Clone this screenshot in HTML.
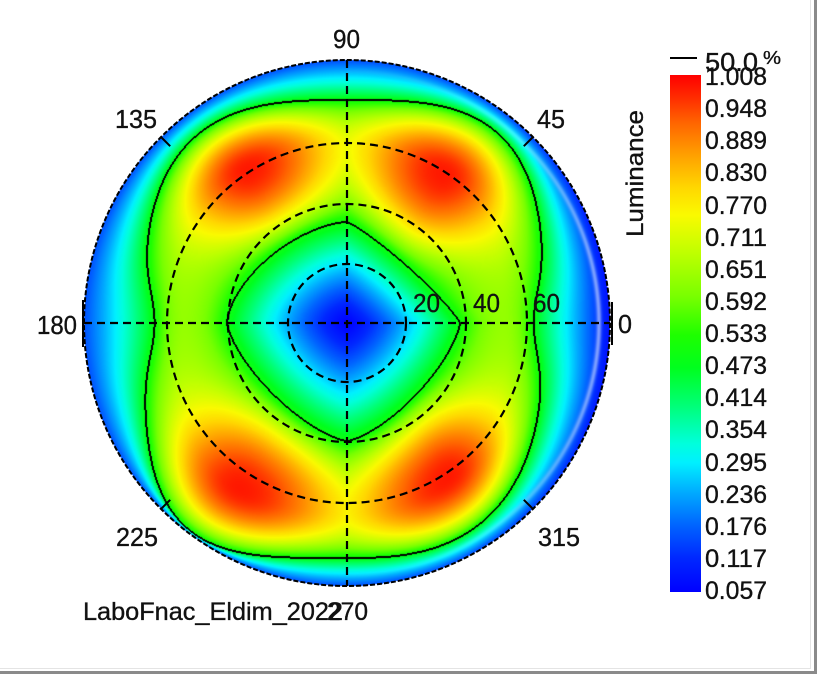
<!DOCTYPE html>
<html>
<head>
<meta charset="utf-8">
<style>
html,body{margin:0;padding:0;background:#fff;}
#wrap{position:relative;width:817px;height:674px;overflow:hidden;background:#fff;}
#c{position:absolute;left:0;top:0;}
#s{position:absolute;left:0;top:0;}
text{font-family:"Liberation Sans",Arial,sans-serif;fill:#111;stroke:#111;stroke-width:0.35;}
</style>
</head>
<body>
<div id="wrap">
<svg width="817" height="674" style="position:absolute;left:0;top:0">
  <circle cx="347" cy="323" r="250" fill="#40e040"/>
</svg>
<canvas id="c" width="817" height="674"></canvas>
<svg id="s" width="817" height="674" viewBox="0 0 817 674">
  <defs>
    <linearGradient id="cb" x1="0" y1="0" x2="0" y2="1">
      <stop offset="0" stop-color="rgb(255,0,0)"/>
      <stop offset="0.040" stop-color="rgb(255,40,0)"/>
      <stop offset="0.092" stop-color="rgb(255,100,0)"/>
      <stop offset="0.155" stop-color="rgb(255,160,0)"/>
      <stop offset="0.218" stop-color="rgb(255,215,0)"/>
      <stop offset="0.271" stop-color="rgb(250,250,0)"/>
      <stop offset="0.345" stop-color="rgb(190,255,0)"/>
      <stop offset="0.429" stop-color="rgb(120,255,0)"/>
      <stop offset="0.503" stop-color="rgb(30,255,0)"/>
      <stop offset="0.566" stop-color="rgb(0,255,30)"/>
      <stop offset="0.640" stop-color="rgb(0,255,120)"/>
      <stop offset="0.713" stop-color="rgb(0,255,220)"/>
      <stop offset="0.750" stop-color="rgb(0,240,255)"/>
      <stop offset="0.808" stop-color="rgb(0,170,255)"/>
      <stop offset="0.871" stop-color="rgb(0,100,255)"/>
      <stop offset="0.934" stop-color="rgb(0,40,255)"/>
      <stop offset="1" stop-color="rgb(0,0,255)"/>
    </linearGradient>
  </defs>
  <line x1="810.5" y1="0" x2="810.5" y2="669" stroke="#e4e4e4" stroke-width="1"/>
  <line x1="0" y1="668.5" x2="811" y2="668.5" stroke="#e4e4e4" stroke-width="1"/>
  <rect x="814" y="0" width="3" height="674" fill="#8a8a8a"/>
  <rect x="0" y="671" width="817" height="3" fill="#8a8a8a"/>

  <g fill="none" stroke="#000" stroke-width="2.2" stroke-dasharray="8 5">
    <line x1="84" y1="323" x2="610" y2="323"/>
    <line x1="347" y1="60" x2="347" y2="586"/>
    <circle cx="347" cy="323" r="59"/>
    <circle cx="347" cy="323" r="119"/>
    <circle cx="347" cy="323" r="180"/>
  </g>
  <circle cx="347" cy="323" r="263" fill="none" stroke="#000" stroke-width="2" stroke-dasharray="5 2"/>
  <g stroke="#000" stroke-width="2">
    <line x1="523.8" y1="146.2" x2="533" y2="137"/>
    <line x1="170.2" y1="146.2" x2="161" y2="137"/>
    <line x1="170.2" y1="499.8" x2="161" y2="509"/>
    <line x1="523.8" y1="499.8" x2="533" y2="509"/>
    <line x1="612" y1="302" x2="612" y2="345"/>
    <line x1="83" y1="300" x2="83" y2="347"/>
  </g>

  <text x="333" y="48" font-size="26" textLength="27" lengthAdjust="spacingAndGlyphs">90</text>
  <text x="537" y="128" font-size="26" textLength="28" lengthAdjust="spacingAndGlyphs">45</text>
  <text x="115" y="128" font-size="26" textLength="42" lengthAdjust="spacingAndGlyphs">135</text>
  <text x="37" y="334" font-size="26" textLength="40" lengthAdjust="spacingAndGlyphs">180</text>
  <text x="618" y="333" font-size="26" textLength="14" lengthAdjust="spacingAndGlyphs">0</text>
  <text x="116" y="546" font-size="26" textLength="42" lengthAdjust="spacingAndGlyphs">225</text>
  <text x="538" y="546" font-size="26" textLength="42" lengthAdjust="spacingAndGlyphs">315</text>
  <text x="327" y="620" font-size="25" textLength="41" lengthAdjust="spacingAndGlyphs">270</text>
  <text x="83" y="620" font-size="25" textLength="260" lengthAdjust="spacingAndGlyphs">LaboFnac_Eldim_2022</text>
  <text x="413" y="312" font-size="26" textLength="27" lengthAdjust="spacingAndGlyphs">20</text>
  <text x="473" y="312" font-size="26" textLength="27" lengthAdjust="spacingAndGlyphs">40</text>
  <text x="533" y="312" font-size="26" textLength="27" lengthAdjust="spacingAndGlyphs">60</text>

  <rect x="670" y="75" width="31" height="517" fill="url(#cb)"/>
  <line x1="670" y1="58" x2="697" y2="58" stroke="#000" stroke-width="2"/>
  <text x="705" y="71" font-size="26" textLength="53" lengthAdjust="spacingAndGlyphs">50.0</text>
  <text x="763" y="64" font-size="18" textLength="18" lengthAdjust="spacingAndGlyphs">%</text>
  <text transform="translate(643,237) rotate(-90)" font-size="24" textLength="127" lengthAdjust="spacingAndGlyphs">Luminance</text>
  <g font-size="25">
    <text x="705" y="85" textLength="62" lengthAdjust="spacingAndGlyphs">1.008</text>
    <text x="705" y="117" textLength="62" lengthAdjust="spacingAndGlyphs">0.948</text>
    <text x="705" y="149" textLength="62" lengthAdjust="spacingAndGlyphs">0.889</text>
    <text x="705" y="181" textLength="62" lengthAdjust="spacingAndGlyphs">0.830</text>
    <text x="705" y="214" textLength="62" lengthAdjust="spacingAndGlyphs">0.770</text>
    <text x="705" y="246" textLength="62" lengthAdjust="spacingAndGlyphs">0.711</text>
    <text x="705" y="278" textLength="62" lengthAdjust="spacingAndGlyphs">0.651</text>
    <text x="705" y="310" textLength="62" lengthAdjust="spacingAndGlyphs">0.592</text>
    <text x="705" y="342" textLength="62" lengthAdjust="spacingAndGlyphs">0.533</text>
    <text x="705" y="374" textLength="62" lengthAdjust="spacingAndGlyphs">0.473</text>
    <text x="705" y="406" textLength="62" lengthAdjust="spacingAndGlyphs">0.414</text>
    <text x="705" y="438" textLength="62" lengthAdjust="spacingAndGlyphs">0.354</text>
    <text x="705" y="471" textLength="62" lengthAdjust="spacingAndGlyphs">0.295</text>
    <text x="705" y="503" textLength="62" lengthAdjust="spacingAndGlyphs">0.236</text>
    <text x="705" y="535" textLength="62" lengthAdjust="spacingAndGlyphs">0.176</text>
    <text x="705" y="567" textLength="62" lengthAdjust="spacingAndGlyphs">0.117</text>
    <text x="705" y="599" textLength="62" lengthAdjust="spacingAndGlyphs">0.057</text>
  </g>
</svg>
</div>
<script>
(function(){
  var cv=document.getElementById('c'); var ctx=cv.getContext('2d');
  var W=817,H=674,cx=347,cy=323,R=263;
  var img=ctx.createImageData(W,H); var D=img.data;
  var F=new Float32Array(W*H); var IN=new Uint8Array(W*H);
  function se(x,y,ax,ay,p){return Math.pow(Math.pow(Math.abs(x)/ax,p)+Math.pow(Math.abs(y)/ay,p),1/p);}
  function field(dx,dy){
    var d=Math.sqrt(dx*dx+dy*dy);
    if(d<0.5) return 0.06;
    var nin,nout;
    if(dy>=0){
      if(dx>=0){nin=se(dx,dy,113,101,1.15);nout=se(dx,dy,197,223,3.3);}
      else {nin=se(dx,dy,120,101,1.6);nout=se(dx,dy,203,223,3.0);}
    } else {
      if(dx>=0){nin=se(dx,dy,113,118,1.4);nout=se(dx,dy,197,235,2.7);}
      else {nin=se(dx,dy,120,118,1.4);nout=se(dx,dy,203,235,3.8);}
    }
    nout*=1+0.055*Math.exp(-(dy*dy)/(45*45));
    var a=d/nin,b=d/nout;
    var phi=Math.atan2(Math.abs(dy),Math.abs(dx))*180/Math.PI;
    var lower=dy<0;
    var w=phi<57?(lower?26:24):(lower?33:30);
    var vp=0.63+0.355*Math.exp(-Math.pow((phi-57)/w,2));
    var th=Math.atan2(dy,dx)*180/Math.PI;
    var ve=0.16; if(dx>0) ve-=0.08*Math.exp(-Math.pow(th/40,2));
    if(d<=a) return 0.06+0.44*Math.pow(d/a,1.25);
    if(d<=b){
      var u=(d-a)/(b-a),up=0.6,bm,q;
      if(u<up){q=(up-u)/up;bm=1-q*q;} else {q=(u-up)/(1-up);bm=1-q*q;}
      return 0.5+(vp-0.5)*bm;
    }
    var t=Math.min(1,(d-b)/Math.max(1,R-b));
    return 0.5-(0.5-ve)*Math.pow(t,0.85);
  }
  var stops=[[0.057,0,0,255],[0.12,0,40,255],[0.18,0,100,255],[0.24,0,170,255],[0.295,0,240,255],[0.33,0,255,220],[0.40,0,255,120],[0.47,0,255,30],[0.53,30,255,0],[0.60,120,255,0],[0.68,190,255,0],[0.75,250,250,0],[0.80,255,215,0],[0.86,255,160,0],[0.92,255,100,0],[0.97,255,40,0],[1.008,255,0,0]];
  function cmap(v){
    if(v<=stops[0][0]) return stops[0].slice(1);
    for(var i=1;i<stops.length;i++){
      if(v<=stops[i][0]){
        var s0=stops[i-1],s1=stops[i],t=(v-s0[0])/(s1[0]-s0[0]);
        return [s0[1]+(s1[1]-s0[1])*t,s0[2]+(s1[2]-s0[2])*t,s0[3]+(s1[3]-s0[3])*t];
      }
    }
    return [255,0,0];
  }
  for(var py=0;py<H;py++){
    for(var px=0;px<W;px++){
      var dx=px+0.5-cx,dy=cy-(py+0.5);
      if(dx*dx+dy*dy<=R*R){
        var k=py*W+px; IN[k]=1; F[k]=field(dx,dy);
      }
    }
  }
  for(var py=0;py<H;py++){
    for(var px=0;px<W;px++){
      var k=py*W+px; if(!IN[k]) continue;
      var v=F[k]; var c=cmap(v);
      var s=v>0.5; var edge=false;
      var nb=[k-1,k+1,k-W,k+W];
      for(var j=0;j<4;j++){var n=nb[j]; if(n>=0&&n<W*H&&IN[n]&&((F[n]>0.5)!==s)){edge=true;break;}}
      var o=k*4;
      if(edge){D[o]=0;D[o+1]=0;D[o+2]=0;D[o+3]=255;}
      else{
        var dx=px+0.5-cx,dy=cy-(py+0.5),d=Math.sqrt(dx*dx+dy*dy);
        if(dx>0){
          var th=Math.atan2(dy,dx);
          var wgt=Math.exp(-Math.pow(th/0.9,2))*Math.exp(-Math.pow((d-(R-11))/2.5,2))*0.55;
          c=[c[0]+(235-c[0])*wgt,c[1]+(245-c[1])*wgt,c[2]+(255-c[2])*wgt];
        }
        D[o]=c[0];D[o+1]=c[1];D[o+2]=c[2];D[o+3]=255;
      }
    }
  }
  ctx.putImageData(img,0,0);
})();
</script>
</body>
</html>
